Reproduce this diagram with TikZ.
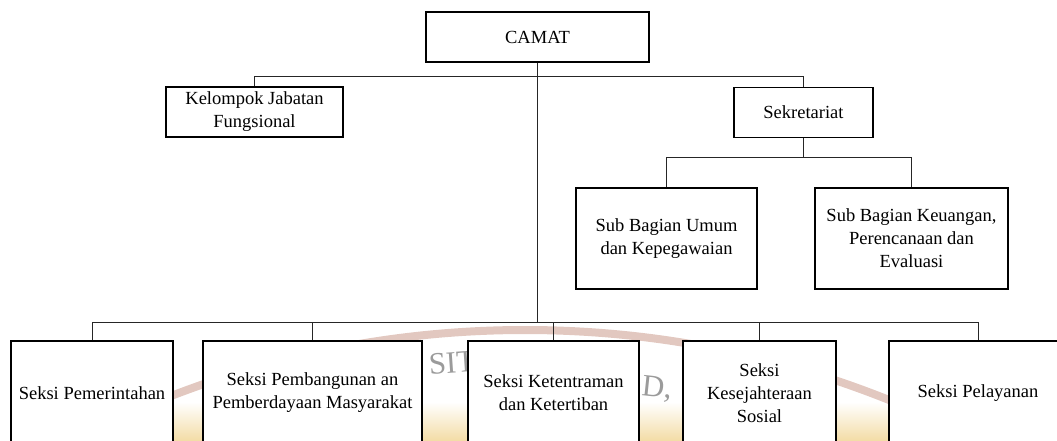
\documentclass[tikz,border=0pt]{standalone}
\usepackage{fontspec}
\setmainfont{Liberation Serif}
\definecolor{wmband}{RGB}{226,200,192}
\definecolor{wmyellow}{RGB}{243,220,165}
\definecolor{wmgray}{RGB}{155,155,155}
\begin{document}
\begin{tikzpicture}[x=1pt,y=-1pt,
  box/.style={draw=black, line width=1.1pt, fill=white, align=center, inner sep=0pt,
              font=\fontsize{18.5}{23}\selectfont},
  link/.style={draw=black!85, line width=0.9pt},
  wmtext/.style={text=wmgray, inner sep=0pt, font=\fontsize{31}{31}\selectfont}]
\useasboundingbox (0,0) rectangle (1057,441);
\clip (0,0) rectangle (1057,441);

% faint watermark in the background
\shade[top color=white, bottom color=wmyellow] (150,402) rectangle (900,441);
\draw[wmband, line width=8pt] (525,1308) circle[radius=978];
\node[wmtext, rotate=4] (wmA) at (452,363) {SIT};
\node[wmtext, rotate=-6] (wmB) at (657,389) {D,};

% boxes
\node[box, minimum width=223pt, minimum height=50pt] (camat) at (537.5,37) {CAMAT};
\node[box, minimum width=177pt, minimum height=50pt] (kjf) at (254.5,112) {Kelompok Jabatan\\Fungsional};
\node[box, minimum width=139pt, minimum height=50pt] (sek) at (803.5,112.5) {Sekretariat};
\node[box, minimum width=181pt, minimum height=101pt] (sub1) at (666.5,238.5) {Sub Bagian Umum\\dan Kepegawaian};
\node[box, minimum width=193pt, minimum height=101pt] (sub2) at (911.5,238.5) {Sub Bagian Keuangan,\\Perencanaan dan\\Evaluasi};

\node[box, minimum width=162pt, minimum height=104pt] (s1) at (92,393) {Seksi Pemerintahan};
\node[box, minimum width=219pt, minimum height=104pt] (s2) at (312.5,393) {Seksi Pembangunan an\\Pemberdayaan Masyarakat};
\node[box, minimum width=171pt, minimum height=104pt] (s3) at (553.5,393) {Seksi Ketentraman\\dan Ketertiban};
\node[box, minimum width=153pt, minimum height=104pt] (s4) at (759.5,393) {Seksi\\Kesejahteraan\\Sosial};
\node[box, minimum width=178pt, minimum height=104pt] (s5) at (978,393) {Seksi Pelayanan};

% bus coordinates
\coordinate (tb) at (537.5,76);
\coordinate (sb) at (803.5,157);
\coordinate (bb) at (537.5,322);

% connectors
\draw[link] (camat.south) -- (bb);
\draw[link] (kjf.north) |- (sek.north |- tb) -- (sek.north);
\draw[link] (sek.south) -- (sb);
\draw[link] (sub1.north) |- (sub2.north |- sb) -- (sub2.north);
\draw[link] (s1.north) |- (s5.north |- bb) -- (s5.north);
\draw[link] (s2.north) -- (s2.north |- bb);
\draw[link] (s3.north) -- (s3.north |- bb);
\draw[link] (s4.north) -- (s4.north |- bb);
\end{tikzpicture}
\end{document}
